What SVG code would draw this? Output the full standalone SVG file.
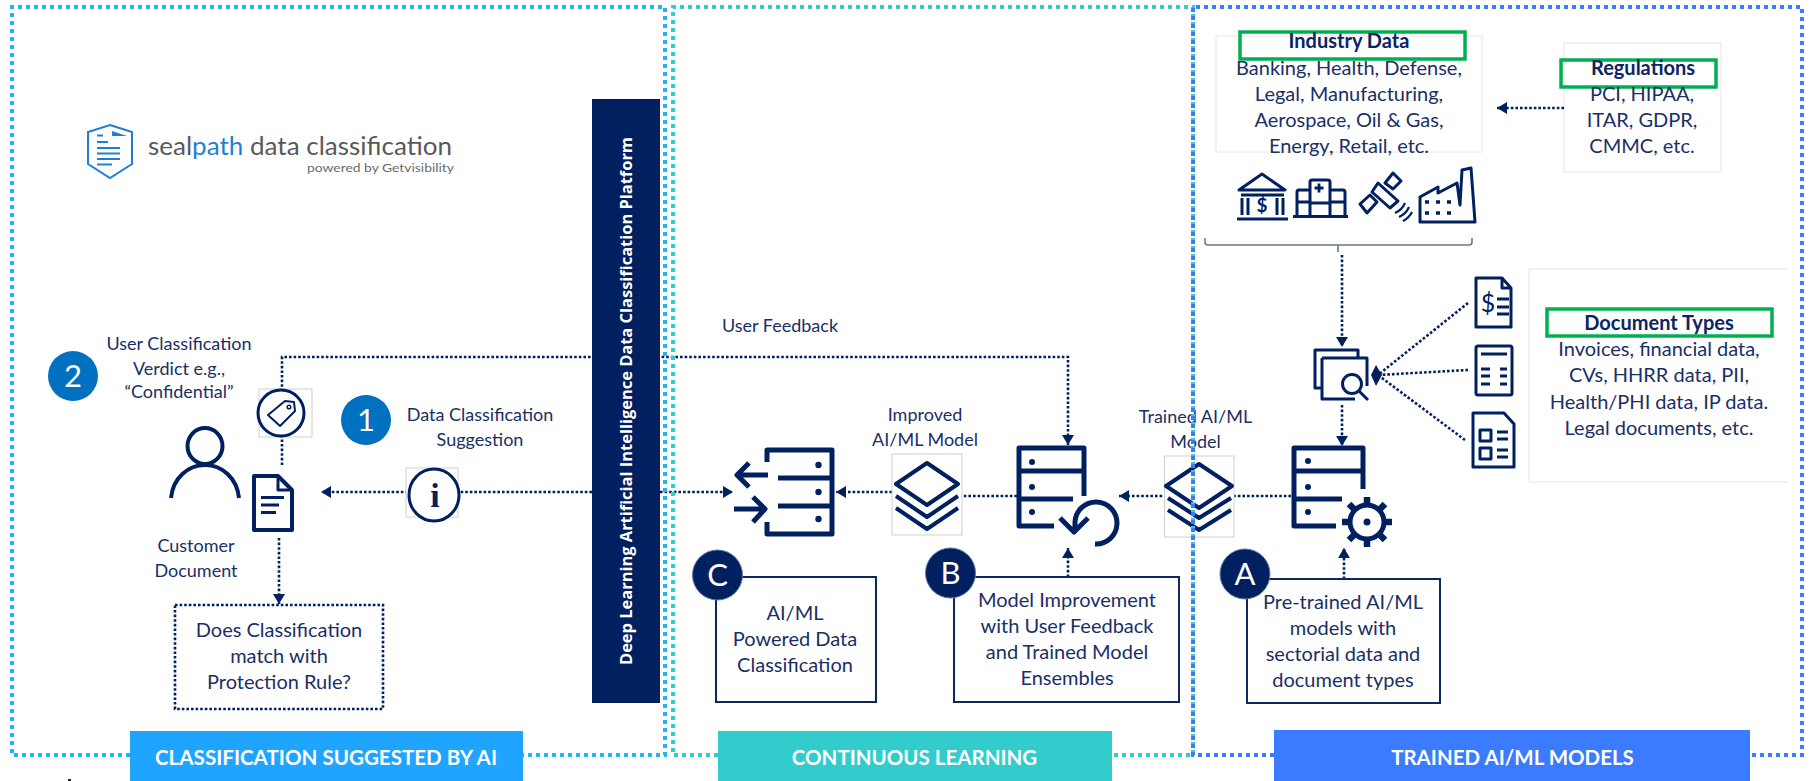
<svg xmlns="http://www.w3.org/2000/svg" width="1814" height="781" viewBox="0 0 1814 781">
<style>
text{font-family:"Lato","Liberation Sans",sans-serif;fill:#1a2f66;font-size:18px;text-anchor:middle}
.b{font-weight:700;fill:#0b2464}
.lg{font-size:20px}
.ban{font-weight:700;fill:#fff;font-size:20.500px}
.num{fill:#fff;font-size:31px}
.frame{fill:none;stroke-width:4;stroke-dasharray:4 4}
.dot{fill:none;stroke:#002060;stroke-width:2.600;stroke-dasharray:2.600 2}
.ic{fill:none;stroke:#002060;stroke-width:4;stroke-linejoin:round}
.hv{stroke-width:5}
.ic2{fill:none;stroke:#002060;stroke-width:3;stroke-linejoin:round}
.fd{fill:#002060}
.lbox{fill:#fff;stroke:#cfcfcf;stroke-width:1}
.gbox{fill:none;stroke:#00b050;stroke-width:3.500}
.box{fill:#fff;stroke:#10265f;stroke-width:2}
.cir{fill:#002060;stroke:#5d78a8;stroke-width:1}
.soft{fill:#fff;stroke:#e6e6e6;stroke-width:1}
</style>
<defs>
<marker id="ah" markerUnits="userSpaceOnUse" markerWidth="14" markerHeight="14" refX="10" refY="6" orient="auto"><path d="M0 0L10 6L0 12Z" fill="#002060"/></marker>
</defs>
<rect width="1814" height="781" fill="#fff"/>

<g id="info-boxes-back">
<rect class="soft" x="1216" y="36" width="266" height="116"/>
<rect class="soft" x="1564" y="43" width="157" height="129"/>
<path d="M1788 269H1529V482H1788" fill="#fff" stroke="#e6e6e6"/>
</g>

<g id="connectors">
<path class="dot" d="M282 465V357H1068V445" marker-end="url(#ah)"/>
<path class="dot" d="M592 492H321" marker-end="url(#ah)"/>
<path class="dot" d="M660 492H733" marker-end="url(#ah)"/>
<path class="dot" d="M279 538V604" marker-end="url(#ah)"/>
<path class="dot" d="M892 492H836" marker-end="url(#ah)"/>
<path class="dot" d="M1017 496H962"/>
<path class="dot" d="M1068 577V548" marker-end="url(#ah)"/>
<path class="dot" d="M1291 496H1119" marker-end="url(#ah)"/>
<path class="dot" d="M1344 579V548" marker-end="url(#ah)"/>
<path class="dot" d="M1342 405V446" marker-end="url(#ah)"/>
<path class="dot" d="M1342 255V347" marker-end="url(#ah)"/>
<path class="dot" d="M1564 108H1497" marker-end="url(#ah)"/>
<path class="dot" d="M1468 303L1378 375"/>
<path class="dot" d="M1468 370L1378 375"/>
<path class="dot" d="M1465 440L1378 375"/>
<path d="M1376 365L1382 375L1376 386L1371 375Z" fill="#002060"/>
<path d="M1205 238V242Q1205 245 1208 245H1469Q1472 245 1472 242V238M1338 245V252" fill="none" stroke="#6b7890" stroke-width="1.600"/>
</g>

<g id="platform-bar">
<rect x="592" y="99" width="68" height="604" fill="#00205f"/>
<text transform="translate(632 401) rotate(-90)" style="font-family:'Open Sans','Liberation Sans',sans-serif;font-weight:700;font-size:16px;fill:#fff" textLength="528" lengthAdjust="spacingAndGlyphs">Deep Learning Artificial Intelligence Data Classification Platform</text>
</g>

<g id="logo">
<path d="M110 125L132 132V164L110 178L88 164V132Z" fill="none" stroke="#1f7fd8" stroke-width="2"/>
<path d="M112 131L127 136H112Z" fill="#1f7fd8"/>
<path d="M97 135.500H103M97 142H108M97 148H120M97 153.500H120M97 159H120M97 164.500H112" stroke="#1f7fd8" stroke-width="2" fill="none"/>
<text x="148" y="155" textLength="304" lengthAdjust="spacingAndGlyphs" style="text-anchor:start;font-size:25px;fill:#58595b">seal<tspan style="fill:#1f7fd8">path</tspan> data classification</text>
<text x="380.500" y="171.500" textLength="147" lengthAdjust="spacingAndGlyphs" style="font-size:11.500px;fill:#6a6a6a">powered by Getvisibility</text>
</g>

<g id="step-2">
<circle cx="73" cy="376" r="25" fill="#0070c0"/><text class="num" x="73" y="387">2</text>
<text x="179" y="350">User Classification</text>
<text x="179" y="375">Verdict e.g.,</text>
<text x="179" y="398">“Confidential”</text>
</g>

<g id="tag-icon">
<rect class="lbox" x="259" y="389" width="53" height="48"/>
<circle class="ic2" cx="281" cy="413" r="23"/>
<path class="ic2" style="stroke-width:2" d="M268 415L285 401L294 402L295 411L280 426Z"/>
<circle cx="289" cy="407" r="1.800" class="ic2" style="stroke-width:1.500"/>
</g>

<g id="step-1">
<circle cx="366" cy="420" r="25" fill="#0070c0"/><text class="num" x="366" y="431">1</text>
<text x="480" y="421">Data Classification</text>
<text x="480" y="446">Suggestion</text>
</g>

<g id="customer">
<ellipse class="ic" cx="205" cy="446" rx="17.500" ry="18"/>
<path class="ic" d="M171 498C173 478 188 465 205 465C222 465 237 478 239 498"/>
<path class="ic" style="fill:#fff" d="M254 476H278L292 490V530H254Z"/>
<path class="ic2" d="M278 476V490H292"/>
<path class="ic2" d="M261 497.500H284M261 505H279M261 512.500H276"/>
<text x="196" y="552">Customer</text>
<text x="196" y="577">Document</text>
</g>

<g id="info-icon">
<rect class="lbox" x="406" y="468" width="52" height="49"/>
<ellipse class="ic2" cx="434" cy="495" rx="25" ry="26" style="fill:#fff"/>
<text x="435" y="507" style="font-family:'Liberation Serif',serif;font-weight:700;font-size:34px;fill:#002060">i</text>
</g>

<g id="rule-box">
<rect x="175" y="605" width="208" height="104" class="dot" style="fill:#fff"/>
<text class="lg" x="279" y="637">Does Classification</text>
<text class="lg" x="279" y="663">match with</text>
<text class="lg" x="279" y="689">Protection Rule?</text>
</g>

<g id="server-c">
<path class="ic hv" d="M767 462V450H832V534H767V522M778 478H832M778 506H832"/>
<circle class="fd" cx="818.500" cy="465" r="3.200"/><circle class="fd" cx="818.500" cy="492" r="3.200"/><circle class="fd" cx="818.500" cy="519" r="3.200"/>
<path class="ic hv" d="M768 475H738M749 463L737 475L749 487M734 509H765M753 497L765 509L753 522"/>
</g>

<g id="improved-model">
<text x="925" y="421">Improved</text><text x="925" y="446">AI/ML Model</text>
<rect class="lbox" x="892" y="454" width="70" height="81"/>
<path class="ic" d="M927 463L958 484L927 505L896 484ZM896 496L927 517L958 496M896 508L927 529L958 508"/>
</g>

<g id="server-b">
<path class="ic hv" d="M1084 496V448H1019V526H1054M1019 471H1084M1019 499H1073"/>
<circle class="fd" cx="1032" cy="462" r="3"/><circle class="fd" cx="1032" cy="487" r="3"/><circle class="fd" cx="1032" cy="512" r="3"/>
<path class="ic hv" d="M1095 544A21 21 0 1 0 1075 522V532M1060 518L1074 532L1088 518"/>
</g>

<g id="trained-model">
<rect x="1164.500" y="456" width="69.500" height="81" fill="#fff" stroke="#cfcfcf"/>
<path class="ic" d="M1199 464L1232 486L1199 508L1166 486ZM1168 498L1199 518L1231 498M1168 510L1199 530L1231 510"/>
<text x="1195.500" y="423">Trained AI/ML</text><text x="1195.500" y="448">Model</text>
</g>

<g id="server-a">
<path class="ic hv" d="M1363 489V448H1294V526H1336M1294 471H1363M1294 499H1342"/>
<circle class="fd" cx="1308" cy="461" r="3"/><circle class="fd" cx="1308" cy="487" r="3"/><circle class="fd" cx="1308" cy="512" r="3"/>
<circle class="ic hv" cx="1367" cy="522" r="17"/><circle class="fd" cx="1367" cy="522" r="3.500"/>
<path stroke="#002060" stroke-width="6.500" d="M1367 497V504M1367 540V547M1342 522H1349M1385 522H1392M1349 504L1354 509M1380 535L1385 540M1385 504L1380 509M1354 535L1349 540"/>
</g>

<g id="box-c">
<rect class="box" x="716" y="577" width="160" height="125"/>
<circle class="cir" cx="717.500" cy="575" r="25"/><text class="num" x="717.500" y="586">C</text>
<text x="795" y="620" class="lg">AI/ML</text><text x="795" y="646" class="lg">Powered Data</text><text x="795" y="672" class="lg">Classification</text>
</g>
<g id="box-b">
<rect class="box" x="954" y="577" width="225" height="125"/>
<circle class="cir" cx="950.500" cy="573" r="25"/><text class="num" x="950.500" y="584">B</text>
<text x="1067" y="607" class="lg">Model Improvement</text><text x="1067" y="633" class="lg">with User Feedback</text><text x="1067" y="659" class="lg">and Trained Model</text><text x="1067" y="685" class="lg">Ensembles</text>
</g>
<g id="box-a">
<rect class="box" x="1247" y="579" width="193" height="124"/>
<circle class="cir" cx="1245" cy="574" r="25"/><text class="num" x="1245" y="585">A</text>
<text x="1343" y="609" class="lg">Pre-trained AI/ML</text><text x="1343" y="635" class="lg">models with</text><text x="1343" y="661" class="lg">sectorial data and</text><text x="1343" y="687" class="lg">document types</text>
</g>

<text x="780" y="332">User Feedback</text>

<g id="industry-data">
<rect class="gbox" x="1240" y="32" width="225" height="27"/>
<text class="lg b" x="1349" y="48">Industry Data</text>
<text class="lg" x="1349" y="75">Banking, Health, Defense,</text>
<text class="lg" x="1349" y="101">Legal, Manufacturing,</text>
<text class="lg" x="1349" y="127">Aerospace, Oil &amp; Gas,</text>
<text class="lg" x="1349" y="153">Energy, Retail, etc.</text>
</g>
<g id="regulations">
<rect class="gbox" x="1561" y="60" width="155" height="27"/>
<text class="lg b" x="1643" y="75">Regulations</text>
<text class="lg" x="1642" y="101">PCI, HIPAA,</text>
<text class="lg" x="1642" y="127">ITAR, GDPR,</text>
<text class="lg" x="1642" y="153">CMMC, etc.</text>
</g>
<g id="document-types">
<rect class="gbox" x="1547" y="309" width="225" height="27"/>
<text class="lg b" x="1659" y="330">Document Types</text>
<text class="lg" x="1659" y="356">Invoices, financial data,</text>
<text class="lg" x="1659" y="382">CVs, HHRR data, PII,</text>
<text class="lg" x="1659" y="409">Health/PHI data, IP data.</text>
<text class="lg" x="1659" y="435">Legal documents, etc.</text>
</g>

<g id="sector-icons">
<path class="ic2" d="M1239 190L1262 174L1285 190ZM1241 195H1284M1237 219H1288"/>
<path class="ic2" d="M1242 198V215M1248 198V215M1277 198V215M1283 198V215"/>
<text x="1262" y="212" style="font-size:19px;font-weight:700;fill:#002060">$</text>
<path class="ic2" d="M1297 216V192Q1297 190 1299 190H1310M1310 216V182Q1310 180 1312 180H1328Q1330 180 1330 182V216M1330 190H1343Q1345 190 1345 192V216M1297 202H1310M1310 203H1330M1330 202H1345M1293 216.500H1348"/>
<path d="M1314.500 188H1323.500M1319 183.500V192.500" stroke="#002060" stroke-width="2.800"/>
<path class="ic2" d="M1360 204L1370 195L1377 202L1367 213ZM1385 183L1393 173L1401 181L1393 189ZM1378 183L1372 192L1390 208L1398 201Z"/>
<path class="ic2" style="stroke-width:2.200" d="M1395 213Q1402 210 1405 203M1399 217Q1406 214 1409 207M1403 221Q1409 218 1412 212"/>
<path class="ic2" d="M1420 222V197L1438 187V193L1457 183L1460 205L1462 170L1471 168L1475 222Z"/>
<path stroke="#002060" stroke-width="3.500" stroke-dasharray="4 7" d="M1425 202H1455M1425 213H1455"/>
</g>

<g id="search-docs">
<path class="ic2" d="M1358 358V350H1315V388H1322"/>
<path class="ic2" d="M1322 358V399H1355M1322 358H1367V386"/>
<circle class="ic2" cx="1352" cy="384" r="9.500"/>
<path class="ic2" d="M1359 391L1368 400"/>
</g>
<g id="doc-icons">
<path class="ic2" d="M1476 278H1502L1511 288V327H1476ZM1502 278V288H1511"/>
<text x="1488" y="312" style="font-size:25px;fill:#002060">$</text>
<path class="ic2" d="M1497 299H1509M1497 307H1509M1497 314H1509"/>
<rect class="ic2" x="1476" y="346" width="36" height="49" rx="2"/>
<path class="ic2" d="M1481 354H1507M1481 369H1490M1500 369H1507M1481 376H1490M1500 376H1507M1481 384H1490M1500 384H1507"/>
<path class="ic2" d="M1473 413H1504L1514 424V467H1473Z"/>
<rect class="ic2" x="1480" y="430" width="11" height="11"/><rect class="ic2" x="1480" y="448" width="11" height="11"/>
<path class="ic2" d="M1497 432H1508M1497 439H1508M1497 450H1508M1497 457H1508"/>
</g>

<g id="frames">
<path class="frame" d="M718 755H673V7H1193V755H1112" style="stroke:#33cccc"/>
<path class="frame" d="M1274 755H1193V7H1802V755H1750" style="stroke:#3b7bff"/>
<path class="frame" d="M130 755H12V7H665V755H523" style="stroke:#1eb6f5"/>
</g>

<g id="banner-left"><rect x="130" y="731" width="393" height="50" fill="#1fa5ff"/><text class="ban" x="326" y="765" textLength="342" lengthAdjust="spacingAndGlyphs">CLASSIFICATION SUGGESTED BY AI</text></g>
<g id="banner-mid"><rect x="718" y="731" width="394" height="50" fill="#33cccc"/><text class="ban" x="914.500" y="765">CONTINUOUS LEARNING</text></g>
<g id="banner-right"><rect x="1274" y="730" width="476" height="51" fill="#3b7bff"/><text class="ban" x="1512.500" y="765">TRAINED AI/ML MODELS</text></g>
<rect x="68" y="779" width="3" height="2" fill="#222"/>
</svg>
